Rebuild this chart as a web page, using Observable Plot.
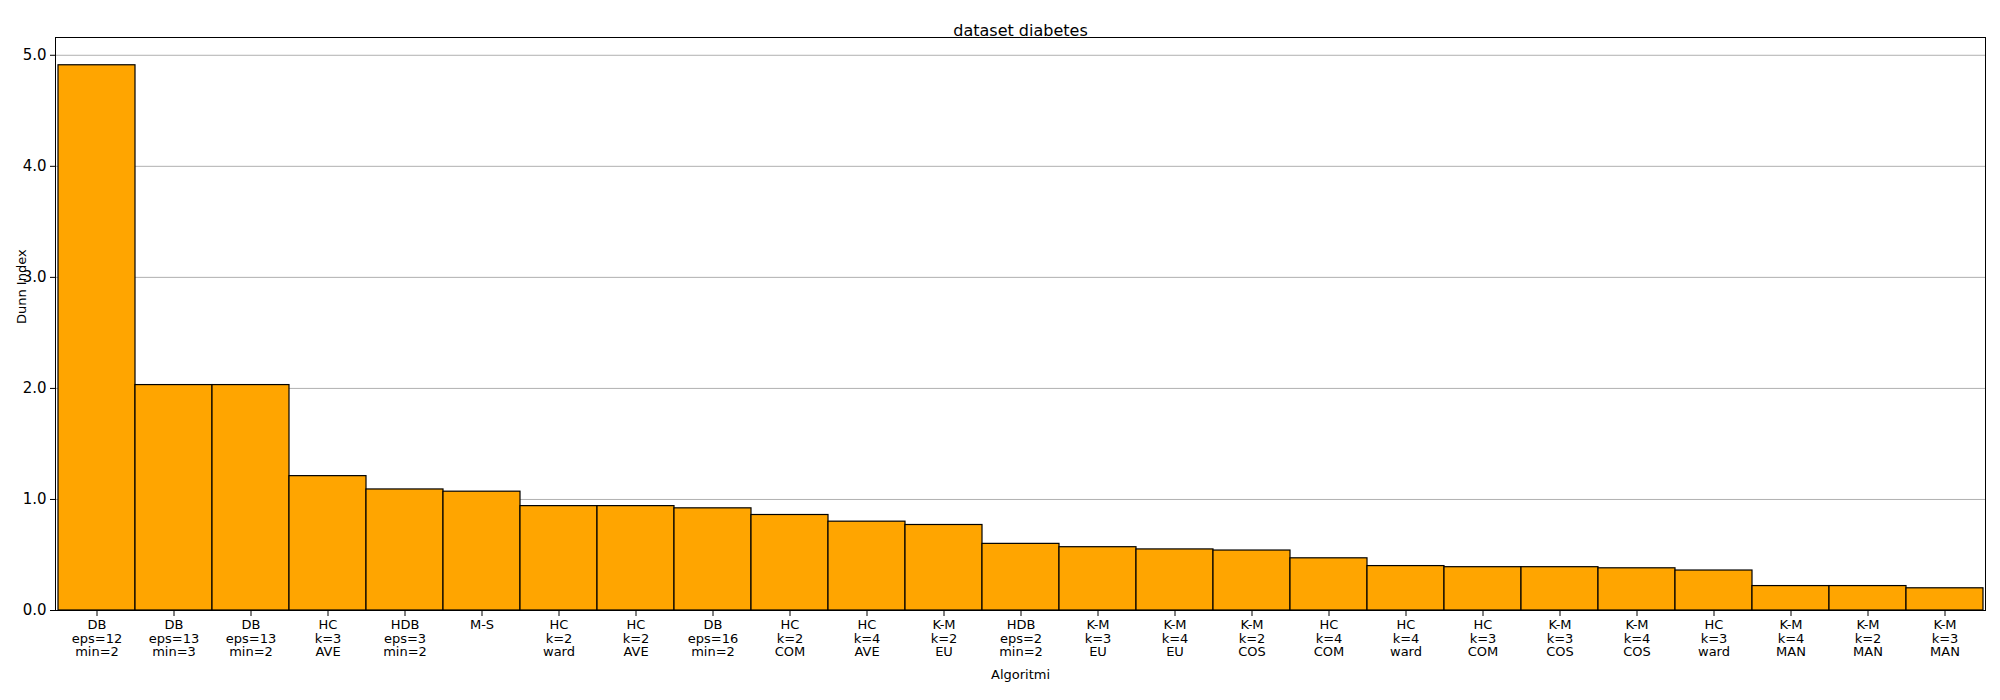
<!DOCTYPE html>
<html><head>
<script src="https://cdn.jsdelivr.net/npm/d3@7"></script>
<script src="https://cdn.jsdelivr.net/npm/@observablehq/plot@0.6"></script>
<style>body{margin:0;background:#fff;font-family:"DejaVu Sans",sans-serif}</style>
</head><body><div id="c"></div>
<script>
const labels = ["DB\neps=12\nmin=2","DB\neps=13\nmin=3","DB\neps=13\nmin=2","HC\nk=3\nAVE","HDB\neps=3\nmin=2","M-S","HC\nk=2\nward","HC\nk=2\nAVE","DB\neps=16\nmin=2","HC\nk=2\nCOM","HC\nk=4\nAVE","K-M\nk=2\nEU","HDB\neps=2\nmin=2","K-M\nk=3\nEU","K-M\nk=4\nEU","K-M\nk=2\nCOS","HC\nk=4\nCOM","HC\nk=4\nward","HC\nk=3\nCOM","K-M\nk=3\nCOS","K-M\nk=4\nCOS","HC\nk=3\nward","K-M\nk=4\nMAN","K-M\nk=2\nMAN","K-M\nk=3\nMAN"];
const values = [4.91,2.03,2.03,1.21,1.09,1.07,0.94,0.94,0.92,0.86,0.80,0.77,0.60,0.57,0.55,0.54,0.47,0.40,0.39,0.39,0.38,0.36,0.22,0.22,0.20];
const yTicks = [0,1,2,3,4,5];
const data = labels.map((l,i)=>({i, l, v: values[i]}));
const chart = Plot.plot({
  width: 2000, height: 700,
  marginLeft: 55, marginRight: 15, marginTop: 37, marginBottom: 90,
  style: {fontFamily: "DejaVu Sans, sans-serif", fontSize: "13px", background: "#fff"},
  x: {domain: d3.range(labels.length), padding: 0, tickFormat: i => labels[i], tickSize: 5, label: null},
  y: {domain: [0, 5.16], ticks: yTicks, grid: false, label: null, tickSize: 5},
  marks: [
    Plot.gridY(yTicks, {stroke: "#b0b0b0", strokeOpacity: 1}),
    Plot.barY(data, {x: "i", y: "v", fill: "orange", stroke: "black", strokeWidth: 1.2}),
    Plot.axisX({tickFormat: i => labels[i], fontSize: 13, lineHeight: 1.05}),
    Plot.axisY({ticks: yTicks, fontSize: 15, tickSize: 5}),
    Plot.frame({stroke: "black"}),
    Plot.text(["dataset diabetes"], {frameAnchor: "top", dy: -13, fontSize: 16}),
    Plot.text(["Algoritmi"], {frameAnchor: "bottom", dy: 68, fontSize: 13}),
    Plot.text(["Dunn Index"], {frameAnchor: "left", dx: -34, rotate: -90, fontSize: 13})
  ]
});
document.getElementById("c").append(chart);
</script></body></html>
